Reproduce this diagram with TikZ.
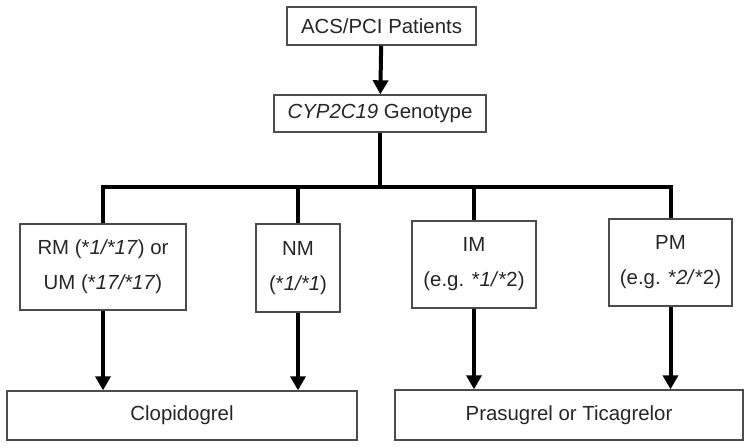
\documentclass[tikz,border=0pt]{standalone}
\usepackage{fontspec}
\setmainfont{Liberation Sans}
\usepackage{tikz}
\usetikzlibrary{arrows.meta}
\usetikzlibrary{shapes,positioning}

\begin{document}
\begin{tikzpicture}[x=0.5pt,y=-0.5pt]
            \tikzstyle{box} = [draw=black!70,line width=0.7pt,inner sep=0pt,align=center,text=black!85,font=\fontsize{10.2}{17.5}\selectfont]
            \tikzstyle{arrow} = [line width=2pt,-{Triangle[length=7pt,width=7.5pt]}]
            \tikzstyle{tree} = [line width=2pt]

            \useasboundingbox (0,0) rectangle (750,447);

            \node[box,minimum width=94.5pt,minimum height=19pt] (pat) at (381.5,26) {ACS/PCI Patients};
            \node[box,minimum width=106pt,minimum height=18.5pt] (geno) at (380,113.5) {\textit{CYP2C19} Genotype};

            \node[box,minimum width=83pt,minimum height=43pt] (rm) at (103,267) {RM (*\textit{1/*17}) or\\UM (*\textit{17/*17})};
            \node[box,minimum width=42pt,minimum height=44pt] (nm) at (298,268) {NM\\(*\textit{1/*1})};
            \node[box,minimum width=62pt,minimum height=43.5pt] (im) at (474,264.5) {IM\\(e.g. *\textit{1/}*2)};
            \node[box,minimum width=61.5pt,minimum height=43.5pt] (pm) at (670.5,262.5) {PM\\(e.g. *\textit{2/}*2)};

            \node[box,minimum width=175pt,minimum height=24.5pt] (clop) at (182,415.5) {Clopidogrel};
            \node[box,minimum width=174pt,minimum height=25pt] (pras) at (569,415) {Prasugrel or Ticagrelor};

            \coordinate (bar) at (380,187);

            \draw [arrow] (pat) -- (geno);
            \draw [tree] (geno) -- (bar);
            \draw [tree] (rm.north) |- (bar) -| (pm.north);
            \draw [tree] (nm.north) -- (nm.north |- bar);
            \draw [tree] (im.north) -- (im.north |- bar);

            \draw [arrow] (rm.south) -- (rm.south |- clop.north);
            \draw [arrow] (nm.south) -- (nm.south |- clop.north);
            \draw [arrow] (im.south) -- (im.south |- pras.north);
            \draw [arrow] (pm.south) -- (pm.south |- pras.north);
        \end{tikzpicture}
\end{document}
